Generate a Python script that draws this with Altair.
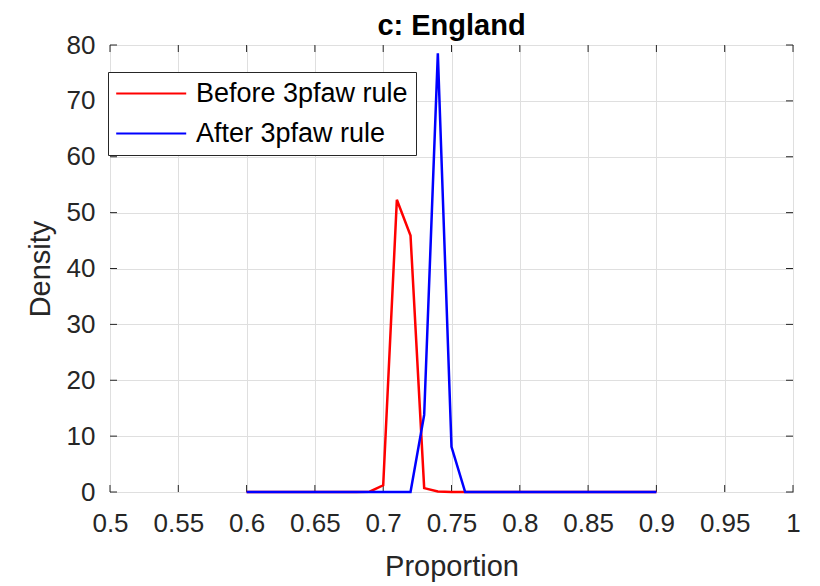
import altair as alt
import pandas as pd

proportion = [0.60, 0.61, 0.62, 0.63, 0.64, 0.65, 0.66, 0.67, 0.68, 0.69,
              0.70, 0.71, 0.72, 0.73, 0.74, 0.75, 0.76, 0.77, 0.78, 0.79,
              0.80, 0.81, 0.82, 0.83, 0.84, 0.85, 0.86, 0.87, 0.88, 0.89, 0.90]
before = [0, 0, 0, 0, 0, 0, 0, 0, 0, 0.05,
          1.2, 52.3, 45.9, 0.7, 0.1, 0, 0, 0, 0, 0,
          0, 0, 0, 0, 0, 0, 0, 0, 0, 0, 0]
after = [0, 0, 0, 0, 0, 0, 0, 0, 0, 0,
         0, 0, 0, 13.8, 78.5, 8.1, 0, 0, 0, 0,
         0, 0, 0, 0, 0, 0, 0, 0, 0, 0, 0]
series_names = ["Before 3pfaw rule", "After 3pfaw rule"]
series_colors = ["#ff0000", "#0000ff"]
x_ticks = [0.5, 0.55, 0.6, 0.65, 0.7, 0.75, 0.8, 0.85, 0.9, 0.95, 1.0]
y_ticks = [0, 10, 20, 30, 40, 50, 60, 70, 80]

W, H = 683, 447
FONT = "Liberation Sans"
AX = "#262626"

rows = []
for i, p in enumerate(proportion):
    rows.append({"Proportion": p, "Density": before[i], "series": series_names[0], "ord": 0})
for i, p in enumerate(proportion):
    rows.append({"Proportion": p, "Density": after[i], "series": series_names[1], "ord": 1})
df = pd.DataFrame(rows)

xscale = alt.Scale(domain=[0.5, 1.0], nice=False, zero=False)
yscale = alt.Scale(domain=[0, 80], nice=False)

lines = alt.Chart(df).mark_line(strokeWidth=2.5).encode(
    x=alt.X("Proportion:Q", scale=xscale,
            axis=alt.Axis(values=x_ticks, format="~g", title="Proportion", grid=True,
                          ticks=False, domain=False, labelPadding=18, titlePadding=16,
                          labelFlush=False, labelOverlap=False)),
    y=alt.Y("Density:Q", scale=yscale,
            axis=alt.Axis(values=y_ticks, title="Density", grid=True,
                          ticks=False, domain=False, labelPadding=15, titlePadding=11,
                          labelFlush=False, labelOverlap=False)),
    color=alt.Color("series:N", scale=alt.Scale(domain=series_names, range=series_colors),
                    legend=alt.Legend(title=None, orient="none", legendX=-2, legendY=27,
                                      symbolType="M-2.66,0H11.34", symbolSize=100,
                                      symbolStrokeWidth=2, labelFontSize=27,
                                      labelFont=FONT, labelColor="black", labelLimit=400,
                                      labelOffset=53, padding=8, rowPadding=12,
                                      fillColor="white", strokeColor=AX)),
    order=alt.Order("ord:Q"),
)

xt = pd.DataFrame({"t": x_ticks})
yt = pd.DataFrame({"t": y_ticks})
tick_len = 7
xb = alt.Chart(xt).mark_rule(color=AX, strokeWidth=1).encode(
    x=alt.X("t:Q", scale=xscale), y=alt.value(H), y2=alt.value(H - tick_len))
xtp = alt.Chart(xt).mark_rule(color=AX, strokeWidth=1).encode(
    x=alt.X("t:Q", scale=xscale), y=alt.value(0), y2=alt.value(tick_len))
yl = alt.Chart(yt).mark_rule(color=AX, strokeWidth=1).encode(
    y=alt.Y("t:Q", scale=yscale), x=alt.value(0), x2=alt.value(tick_len))
yr = alt.Chart(yt).mark_rule(color=AX, strokeWidth=1).encode(
    y=alt.Y("t:Q", scale=yscale), x=alt.value(W), x2=alt.value(W - tick_len))

chart = alt.layer(xb, xtp, yl, yr, lines).properties(
    width=W, height=H,
    title=alt.TitleParams("c: England", fontSize=29, fontWeight="bold", font=FONT,
                          color="black", anchor="middle", offset=-9, frame="group"),
    autosize=alt.AutoSizeParams(type="none"),
    padding={"left": 102, "top": 37, "right": 10, "bottom": 100},
).configure_view(
    stroke=AX, strokeWidth=1
).configure_axis(
    labelFont=FONT, titleFont=FONT, labelFontSize=26, titleFontSize=29,
    labelColor=AX, titleColor=AX, titleFontWeight="normal",
    gridColor="#dfdfdf", gridWidth=1
)

chart.save("out.html", embed_options={"renderer": "svg", "actions": False})
